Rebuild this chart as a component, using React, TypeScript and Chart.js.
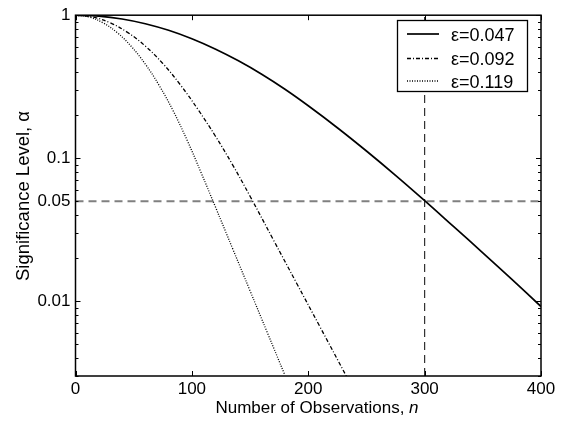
import React, { useEffect, useRef } from 'react';
import { Chart, registerables } from 'chart.js';

Chart.register(...registerables);

// ---- data ----
const nEps047 = [0, 20, 40, 60, 80, 100, 120, 140, 160, 180, 200, 225, 250, 275, 300, 325, 350, 375, 400];
const aEps047 = [1, 0.985, 0.941, 0.872, 0.784, 0.684, 0.58, 0.4795, 0.3864, 0.3034, 0.2326, 0.1634, 0.1123, 0.0759, 0.0505, 0.0332, 0.0218, 0.0142, 0.00918];

const nEps092 = [0, 15, 30, 45, 60, 75, 90, 105, 120, 135, 150, 170, 190, 210, 233];
const aEps092 = [1, 0.9694, 0.8831, 0.7558, 0.6081, 0.4598, 0.3266, 0.2207, 0.1436, 0.0899, 0.0542, 0.0269, 0.01337, 0.00664, 0.002965];

const nEps119 = [0, 12, 24, 36, 48, 60, 72, 84, 96, 108, 120, 135, 150, 165, 180];
const aEps119 = [1, 0.969, 0.8817, 0.753, 0.6042, 0.455, 0.3218, 0.2137, 0.1331, 0.079, 0.0461, 0.02335, 0.01183, 0.00599, 0.003033];

const seriesLabels = ['ε=0.047', 'ε=0.092', 'ε=0.119'];
const xTickValues = [0, 100, 200, 300, 400];
const yTickLabelValues = [1, 0.1, 0.05, 0.01];
const refN = 300;
const refAlpha = 0.05;
const xMin = 0;
const xMax = 400;
const yMin = 0.003;
const yMax = 1;
const xTitle = 'Number of Observations, ';
const xTitleItalic = 'n';
const yTitle = 'Significance Level, α';

const FONT = '"Liberation Sans", Arial, sans-serif';

const toPoints = (xs: number[], ys: number[]) => xs.map((v, i) => ({ x: v, y: ys[i] }));

const seriesStyles = [
  { borderDash: [] as number[], borderWidth: 1.7 },
  { borderDash: [4, 2, 1, 2], borderWidth: 1.3 },
  { borderDash: [1, 1.5], borderWidth: 1.3 },
];

const framePlugin = {
  id: 'matlabFrame',
  afterDraw(chart: any) {
    const { ctx, chartArea, scales } = chart;
    const { left, right, top, bottom } = chartArea;
    const x = scales.x;
    const y = scales.y;
    ctx.save();
    ctx.strokeStyle = '#000';
    ctx.lineWidth = 1;
    const seg = (x1: number, y1: number, x2: number, y2: number) => {
      ctx.beginPath();
      ctx.moveTo(x1, y1);
      ctx.lineTo(x2, y2);
      ctx.stroke();
    };
    // x ticks (inward, top and bottom)
    xTickValues.forEach((v) => {
      const px = Math.round(x.getPixelForValue(v)) + 0.5;
      seg(px, bottom, px, bottom - 5);
      seg(px, top, px, top + 5);
    });
    // y ticks (log major + minor, inward, left and right)
    for (let d = 0.001; d <= 1.0001; d *= 10) {
      for (let k = 1; k <= 9; k++) {
        const v = k * d;
        if (v < yMin * 0.999 || v > yMax * 1.001) continue;
        const py = Math.round(y.getPixelForValue(v)) + 0.5;
        const len = k === 1 ? 5 : 3;
        seg(left, py, left + len, py);
        seg(right, py, right - len, py);
      }
    }
    // frame
    ctx.lineWidth = 1.5;
    ctx.strokeRect(left, top, right - left, bottom - top);

    // legend
    const lx = 397, ly = 20, lw = 130, lh = 71;
    ctx.fillStyle = '#fff';
    ctx.fillRect(lx, ly, lw, lh);
    ctx.lineWidth = 1.3;
    ctx.strokeStyle = '#000';
    ctx.strokeRect(lx + 0.5, ly + 0.5, lw, lh);
    const rows = [34, 58.5, 81];
    ctx.font = `18px ${FONT}`;
    ctx.textBaseline = 'middle';
    ctx.textAlign = 'left';
    rows.forEach((ry, i) => {
      ctx.setLineDash(seriesStyles[i].borderDash);
      ctx.lineWidth = seriesStyles[i].borderWidth;
      seg(407, ry, 439, ry);
      ctx.setLineDash([]);
      ctx.fillStyle = '#000';
      ctx.fillText(seriesLabels[i], 451, ry + 2);
    });

    // axis titles
    ctx.fillStyle = '#000';
    ctx.font = `17px ${FONT}`;
    const w1 = ctx.measureText(xTitle).width;
    ctx.font = `italic 17px ${FONT}`;
    const w2 = ctx.measureText(xTitleItalic).width;
    const cx = 317;
    const startX = cx - (w1 + w2) / 2;
    ctx.textBaseline = 'alphabetic';
    ctx.font = `17px ${FONT}`;
    ctx.fillText(xTitle, startX, 413);
    ctx.font = `italic 17px ${FONT}`;
    ctx.fillText(xTitleItalic, startX + w1, 413);

    ctx.translate(29, 196);
    ctx.rotate(-Math.PI / 2);
    ctx.font = `18.5px ${FONT}`;
    ctx.textAlign = 'center';
    ctx.fillText(yTitle, 0, 0);
    ctx.restore();
  },
};

export default function App() {
  const ref = useRef<HTMLCanvasElement | null>(null);
  useEffect(() => {
    document.body.style.margin = '0';
    const canvas = ref.current!;
    const curve = (i: number, xs: number[], ys: number[]) => ({
      label: seriesLabels[i],
      data: toPoints(xs, ys),
      borderColor: '#000',
      borderWidth: seriesStyles[i].borderWidth,
      borderDash: seriesStyles[i].borderDash,
      pointRadius: 0,
      tension: 0.4,
      fill: false,
    });
    const chart = new Chart(canvas, {
      type: 'line',
      data: {
        datasets: [
          curve(0, nEps047, aEps047),
          curve(1, nEps092, aEps092),
          curve(2, nEps119, aEps119),
          {
            label: 'ref-h',
            data: [{ x: xMin, y: refAlpha }, { x: xMax, y: refAlpha }],
            borderColor: '#808080',
            borderWidth: 2,
            borderDash: [8, 5],
            pointRadius: 0,
            fill: false,
          },
          {
            label: 'ref-v',
            data: [{ x: refN, y: yMin }, { x: refN, y: yMax }],
            borderColor: '#333',
            borderWidth: 1.2,
            borderDash: [8, 5],
            pointRadius: 0,
            fill: false,
          },
        ],
      },
      options: {
        responsive: false,
        animation: false,
        layout: { padding: { left: 0, top: 11, right: 28, bottom: 0 } },
        plugins: { legend: { display: false }, tooltip: { enabled: false } },
        scales: {
          x: {
            type: 'linear',
            min: xMin,
            max: xMax,
            afterBuildTicks: (s: any) => {
              s.ticks = xTickValues.map((v) => ({ value: v }));
            },
            afterFit: (s: any) => {
              s.height = 47;
            },
            ticks: {
              color: '#000',
              font: { family: FONT, size: 17 },
              padding: 3,
              maxRotation: 0,
            },
            grid: { display: false, drawTicks: false },
            border: { display: false },
          },
          y: {
            type: 'logarithmic',
            min: yMin,
            max: yMax,
            afterBuildTicks: (s: any) => {
              s.ticks = yTickLabelValues.map((v) => ({ value: v }));
            },
            afterFit: (s: any) => {
              s.width = 75.5;
            },
            ticks: {
              color: '#000',
              font: { family: FONT, size: 17 },
              padding: 5,
              callback: (v: any) => String(v),
            },
            grid: { display: false, drawTicks: false },
            border: { display: false },
          },
        },
      },
      plugins: [framePlugin],
    } as any);
    return () => chart.destroy();
  }, []);
  return <canvas ref={ref} width={569} height={423} style={{ display: 'block', width: 569, height: 423 }} />;
}
